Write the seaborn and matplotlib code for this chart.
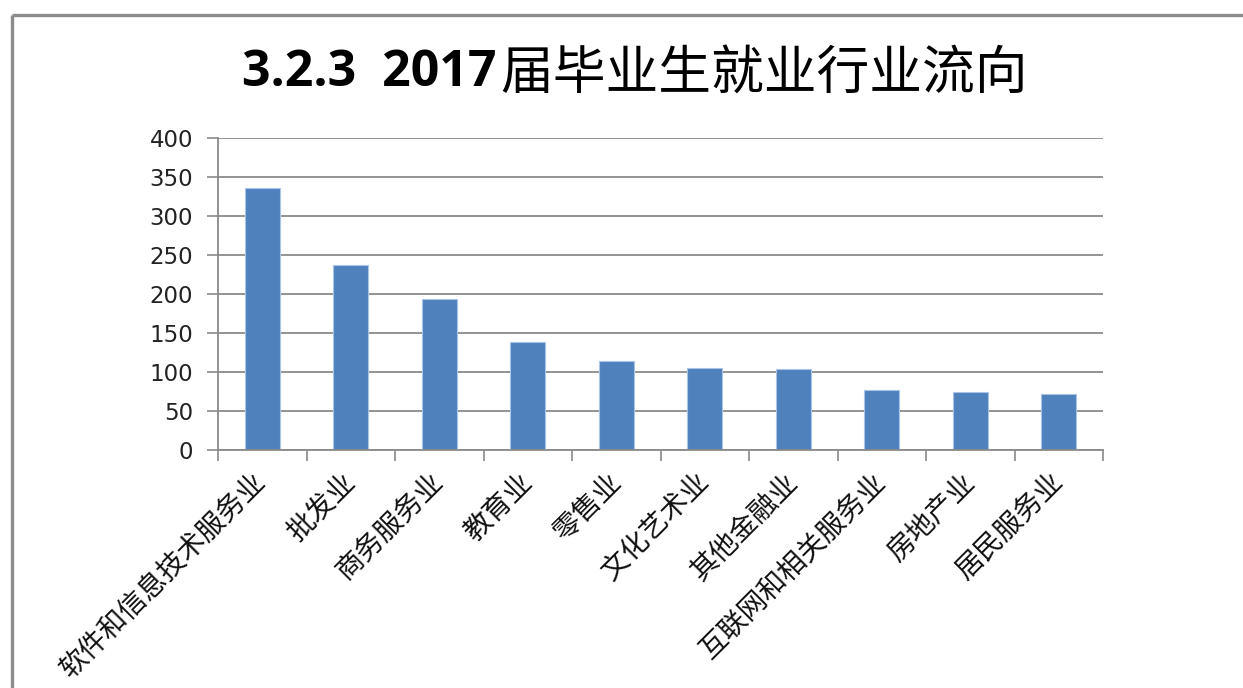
import matplotlib
matplotlib.use("Agg")
import matplotlib.pyplot as plt
import seaborn as sns
import pandas as pd
from matplotlib.lines import Line2D

categories = ["软件和信息技术服务业", "批发业", "商务服务业", "教育业", "零售业",
              "文化艺术业", "其他金融业", "互联网和相关服务业", "房地产业", "居民服务业"]
values = [336, 237, 194, 139, 114, 105, 104, 77, 75, 72]
yticks = [0, 50, 100, 150, 200, 250, 300, 350, 400]
title_num = "3.2.3  2017"
title_cn = "届毕业生就业行业流向"

sns.set_theme(style="white")
plt.rcParams['font.family'] = ['Noto Sans CJK SC', 'DejaVu Sans']

W, H = 1243, 688
fig = plt.figure(figsize=(W / 100, H / 100), dpi=100)
fig.patch.set_facecolor("white")
ax = fig.add_axes([218 / W, 1 - 450 / H, (1103 - 218) / W, (450 - 138) / H])

df = pd.DataFrame({"cat": categories, "val": values})
sns.barplot(data=df, x="cat", y="val", color="#4F81BD", width=0.4,
            edgecolor="#a9c4e6", linewidth=0.8, saturation=1, ax=ax)

ax.set_xlim(-0.5, len(categories) - 0.5)
ax.set_ylim(0, 400)
ax.set_yticks(yticks)
ax.set_yticklabels([str(v) for v in yticks], family=['DejaVu Sans'], fontsize=16.5, color="#222222")
ax.yaxis.grid(True, color="#8a8a8a", linewidth=1.3)
ax.set_axisbelow(True)
ax.set_xlabel("")
ax.set_ylabel("")

for s in ["top", "right"]:
    ax.spines[s].set_visible(False)
for s in ["left", "bottom"]:
    ax.spines[s].set_color("#8a8a8a")
    ax.spines[s].set_linewidth(1.3)

ax.tick_params(axis="y", which="major", direction="out", length=8, width=1.2,
               color="#8a8a8a", pad=10, left=True)
ax.set_xticks(range(len(categories)))
ax.set_xticks([i - 0.5 for i in range(len(categories) + 1)], minor=True)
ax.tick_params(axis="x", which="major", length=0, pad=20)
ax.tick_params(axis="x", which="minor", direction="out", length=8, width=1.2,
               color="#8a8a8a", bottom=True)
ax.set_xticklabels(categories, rotation=45, ha="right", va="center",
                   rotation_mode="anchor", fontsize=20, color="#111111",
                   family=['Noto Sans CJK SC'])

# figure border (top and left)
fig.add_artist(Line2D([12 / W, 12 / W], [0, 1 - 15 / H], color="#8c8c8c", lw=2.4,
                      transform=fig.transFigure, solid_capstyle="butt"))
fig.add_artist(Line2D([12 / W, 1], [1 - 15 / H, 1 - 15 / H], color="#8c8c8c", lw=2.4,
                      transform=fig.transFigure, solid_capstyle="butt"))

# two-part title
ty = 1 - 73 / H
t1 = fig.text(0, ty, title_num, fontsize=36, fontweight="bold",
              family=['Open Sans', 'DejaVu Sans'], va="center", ha="left", color="black")
t2 = fig.text(0, ty, title_cn, fontsize=38, family=['Noto Sans CJK SC'],
              va="center", ha="left", color="black")
fig.canvas.draw()
r = fig.canvas.get_renderer()
w1 = t1.get_window_extent(r).width
w2 = t2.get_window_extent(r).width
cx = 633
x0 = cx - (w1 + w2) / 2
t1.set_x(x0 / W)
t2.set_x((x0 + w1 + 4) / W)

fig.savefig("out.png", dpi=100, facecolor="white")
